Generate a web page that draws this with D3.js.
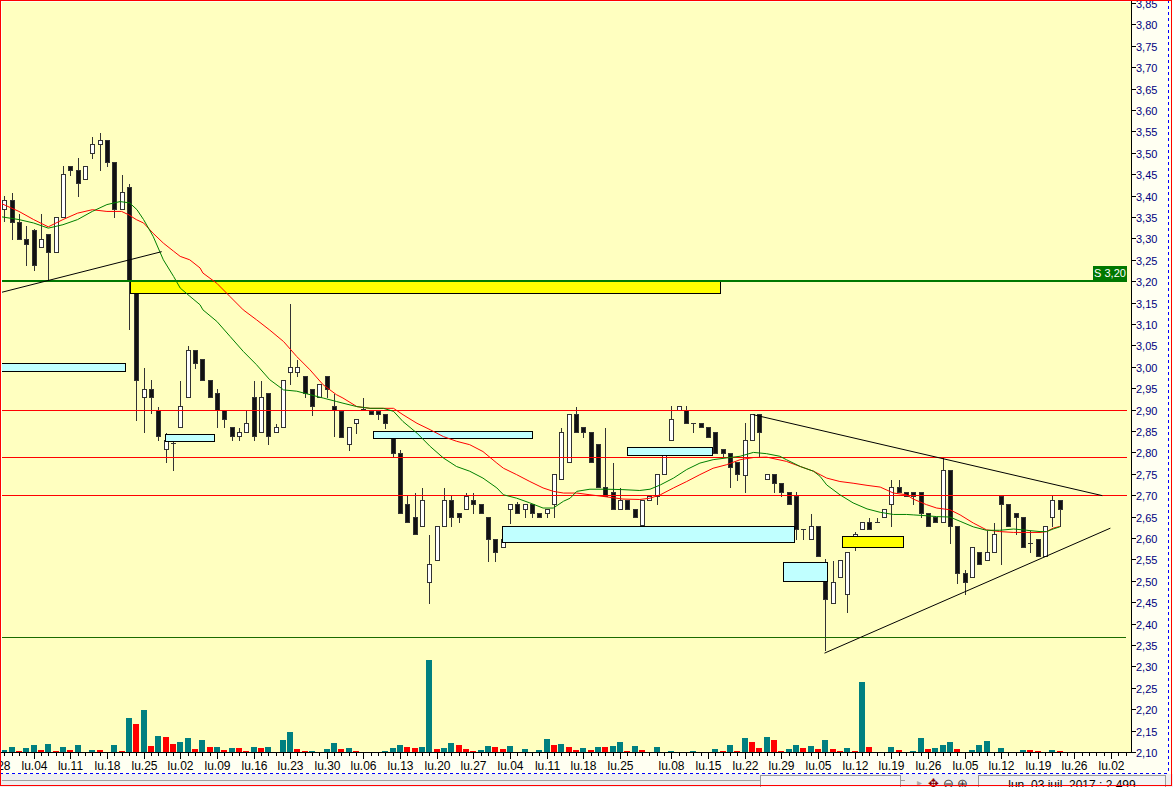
<!DOCTYPE html>
<html><head><meta charset="utf-8">
<script src="https://cdn.jsdelivr.net/npm/d3@7/dist/d3.min.js"></script>
<style>
body{margin:0;background:#fff}
svg{display:block}
text{font-family:"Liberation Sans",Arial,sans-serif}
</style>
</head><body>
<svg id="chart" width="1173" height="787"></svg>
<script>
// ---- DATA (index 0 = 29 Aug 2017, daily trading sessions) ----
const opens = [3.369,3.389,3.339,3.299,3.320,3.279,3.310,3.268,3.350,3.470,
3.459,3.438,3.499,3.521,3.530,3.478,3.369,3.420,3.173,2.930,
2.949,2.899,2.808,2.821,2.860,2.930,3.040,3.018,2.970,2.939,
2.898,2.859,2.838,2.848,2.929,2.848,2.939,2.848,2.859,2.987,
2.987,2.978,2.949,2.929,2.978,2.909,2.897,2.819,2.868,2.901,
2.897,2.897,2.889,2.837,2.798,2.679,2.649,2.627,2.497,2.548,
2.627,2.689,2.658,2.668,2.689,2.679,2.649,2.598,2.579,2.668,
2.679,2.668,2.679,2.658,2.658,2.679,2.738,2.777,2.890,2.859,
2.847,2.820,2.719,2.707,2.668,2.689,2.668,2.630,2.688,2.697,
2.750,2.828,2.899,2.899,2.868,2.868,2.859,2.847,2.808,2.798,
2.777,2.748,2.828,2.890,2.738,2.750,2.728,2.707,2.697,2.620,
2.598,2.629,2.540,2.448,2.509,2.469,2.590,2.620,2.637,2.637,
2.649,2.679,2.719,2.707,2.707,2.707,2.658,2.649,2.637,2.758,
2.627,2.518,2.509,2.567,2.549,2.567,2.697,2.679,2.658,2.649,
2.588,2.598,2.557,2.649,2.689];
const highs = [3.398,3.406,3.357,3.328,3.322,3.358,3.310,3.350,3.468,3.470,
3.489,3.470,3.537,3.546,3.530,3.478,3.449,3.428,3.175,2.997,
2.968,2.906,2.846,2.836,2.967,3.048,3.040,3.018,2.970,2.947,
2.898,2.859,2.857,2.898,2.967,2.967,2.939,2.867,2.970,3.147,
3.016,2.978,2.949,2.960,2.978,2.937,2.900,2.859,2.877,2.927,
2.897,2.897,2.889,2.837,2.806,2.697,2.705,2.717,2.608,2.629,
2.717,2.697,2.658,2.705,2.705,2.679,2.649,2.598,2.598,2.679,
2.684,2.679,2.679,2.658,2.668,2.750,2.857,2.890,2.907,2.859,
2.847,2.820,2.857,2.775,2.717,2.689,2.668,2.689,2.697,2.750,
2.808,2.909,2.909,2.909,2.868,2.868,2.859,2.847,2.808,2.798,
2.777,2.868,2.890,2.890,2.750,2.750,2.728,2.707,2.707,2.620,
2.657,2.629,2.550,2.547,2.548,2.567,2.615,2.637,2.647,2.647,
2.668,2.736,2.736,2.707,2.707,2.707,2.658,2.649,2.787,2.758,
2.627,2.526,2.579,2.567,2.616,2.635,2.697,2.679,2.658,2.649,
2.616,2.598,2.629,2.697,2.689];
const lows = [3.340,3.298,3.298,3.238,3.227,3.279,3.200,3.268,3.350,3.449,
3.398,3.438,3.489,3.459,3.468,3.350,3.369,3.088,2.876,2.847,
2.891,2.829,2.778,2.759,2.860,2.930,2.998,2.970,2.929,2.859,
2.859,2.828,2.828,2.848,2.828,2.848,2.820,2.848,2.859,2.960,
2.978,2.929,2.888,2.929,2.929,2.838,2.837,2.806,2.846,2.900,
2.889,2.878,2.858,2.790,2.658,2.637,2.609,2.627,2.448,2.548,
2.627,2.627,2.637,2.668,2.658,2.658,2.547,2.547,2.579,2.635,
2.658,2.649,2.649,2.649,2.649,2.649,2.738,2.777,2.847,2.837,
2.777,2.719,2.699,2.668,2.668,2.668,2.649,2.620,2.688,2.679,
2.750,2.828,2.899,2.868,2.847,2.859,2.837,2.798,2.790,2.719,
2.736,2.707,2.828,2.790,2.738,2.707,2.699,2.679,2.598,2.598,
2.598,2.557,2.339,2.448,2.509,2.427,2.572,2.620,2.620,2.637,
2.649,2.627,2.707,2.697,2.679,2.649,2.629,2.637,2.637,2.588,
2.496,2.470,2.509,2.539,2.549,2.567,2.539,2.627,2.609,2.579,
2.567,2.557,2.557,2.627,2.627];
const closes = [3.389,3.338,3.298,3.288,3.239,3.299,3.268,3.350,3.451,3.459,
3.429,3.470,3.521,3.530,3.478,3.369,3.409,3.200,2.970,2.949,
2.930,2.839,2.829,2.821,2.909,3.040,3.009,2.970,2.929,2.900,
2.878,2.838,2.848,2.869,2.838,2.929,2.838,2.859,2.970,2.999,
2.999,2.939,2.908,2.960,2.949,2.900,2.837,2.859,2.877,2.901,
2.889,2.889,2.868,2.798,2.658,2.637,2.609,2.689,2.540,2.629,
2.689,2.649,2.649,2.697,2.679,2.658,2.598,2.567,2.598,2.679,
2.658,2.679,2.658,2.649,2.668,2.750,2.847,2.890,2.847,2.847,
2.777,2.719,2.699,2.668,2.689,2.668,2.649,2.689,2.697,2.750,
2.808,2.879,2.909,2.868,2.868,2.859,2.837,2.798,2.798,2.767,
2.750,2.828,2.890,2.847,2.750,2.728,2.707,2.679,2.620,2.620,
2.629,2.557,2.458,2.497,2.548,2.567,2.610,2.637,2.620,2.637,
2.668,2.719,2.707,2.697,2.697,2.658,2.629,2.637,2.758,2.629,
2.518,2.497,2.579,2.539,2.567,2.609,2.679,2.627,2.649,2.579,
2.588,2.557,2.629,2.689,2.668];
const volumes = [30,60,20,50,80,30,90,20,60,30,80,10,30,30,10,80,20,350,290,430,
70,170,160,90,110,150,40,130,60,60,30,50,50,20,60,50,60,10,130,210,
40,20,20,10,40,100,40,50,20,10,10,10,20,50,80,
60,50,60,930,40,50,100,80,40,20,30,70,60,40,70,10,40,10,30,140,
80,90,60,30,50,30,60,60,70,110,20,70,30,10,60,10,20,10,10,20,
10,10,40,20,80,20,150,110,50,160,130,20,40,
80,50,70,40,130,40,20,50,20,710,60,10,10,60,30,10,20,150,40,50,
80,110,40,10,30,80,120,5,50,10,10,30,30,20,10,30,20];
const volumeTeal = [1,1,0,1,1,0,1,0,1,0,1,0,1,0,0,1,0,1,0,1,
0,1,0,0,1,1,0,1,0,1,0,1,0,0,1,0,1,0,1,1,
0,0,1,0,1,1,0,1,0,0,0,1,1,1,1,
0,0,1,1,0,1,1,0,0,0,1,1,0,0,1,0,1,0,1,1,
0,1,0,0,1,0,1,0,1,1,0,1,0,0,1,0,1,0,1,1,
0,1,1,0,1,0,1,0,0,1,0,0,1,
1,0,1,0,1,0,0,1,0,1,0,0,0,1,0,0,1,1,0,1,
1,1,0,0,1,1,1,1,1,0,1,1,0,0,0,1,0];

// moving averages: [session index, value]
const maRed = [[-0.6,3.383],[2,3.363],[4,3.344],[6,3.327],[8,3.344],[10,3.359],[12,3.367],[14,3.363],[16,3.363],[17,3.355],[18,3.344],[19,3.336],[20.3,3.312],[21.7,3.289],[23.1,3.270],[24,3.258],[25.3,3.250],[26.7,3.231],[27.1,3.219],[29,3.195],[30.8,3.164],[32.6,3.133],[34.4,3.110],[36.2,3.086],[38.1,3.059],[39.9,3.024],[41.7,2.993],[43.5,2.958],[45.3,2.935],[46.2,2.927],[48.1,2.907],[49.9,2.903],[51.7,2.903],[53.1,2.903],[54.4,2.888],[56.3,2.868],[58.1,2.853],[59.9,2.837],[61.7,2.826],[63.5,2.818],[65.3,2.802],[67.2,2.775],[68.1,2.763],[69.9,2.748],[71.7,2.732],[73.5,2.717],[74.9,2.709],[76.3,2.705],[78.1,2.705],[79.9,2.701],[82.2,2.696],[84.4,2.691],[86.7,2.690],[88.1,2.693],[89.5,2.701],[91.3,2.717],[93.1,2.732],[94.9,2.748],[96.7,2.763],[98.5,2.771],[100.4,2.783],[102.2,2.788],[104,2.789],[106.7,2.779],[108.6,2.767],[110.4,2.756],[111.3,2.748],[112.2,2.740],[114,2.732],[115.8,2.728],[117.7,2.723],[119.5,2.719],[121.3,2.705],[123.1,2.701],[124,2.691],[125.8,2.678],[127.2,2.670],[129,2.666],[130.4,2.654],[132.2,2.635],[134,2.619],[135.8,2.615],[137.7,2.613],[139.5,2.613],[141.3,2.613],[142.2,2.615],[143.1,2.623],[144,2.627]];
const maGreen = [[-0.6,3.351],[2,3.344],[4,3.336],[6,3.324],[8,3.332],[10,3.344],[12,3.363],[14,3.379],[15.8,3.386],[17.1,3.383],[18.1,3.367],[19,3.344],[20.3,3.305],[21.7,3.250],[23.1,3.211],[24,3.184],[25.3,3.165],[26.7,3.145],[27.1,3.133],[29,3.106],[30.8,3.071],[32.6,3.036],[34.4,3.005],[36.2,2.970],[38.1,2.946],[39.9,2.943],[41.7,2.935],[43.5,2.927],[45.3,2.919],[46.2,2.915],[48.1,2.907],[49.9,2.903],[51.7,2.903],[53.1,2.896],[54.4,2.872],[56.3,2.845],[58.1,2.814],[59.9,2.787],[61.7,2.767],[63.5,2.756],[65.3,2.740],[67.2,2.717],[68.1,2.701],[69.9,2.693],[71.7,2.682],[73.5,2.670],[74.9,2.670],[76.3,2.686],[77.2,2.693],[78.1,2.709],[79.9,2.714],[82.2,2.714],[84.4,2.713],[86.7,2.711],[88.1,2.714],[89.5,2.724],[91.3,2.740],[93.1,2.760],[94.9,2.775],[96.7,2.783],[98.5,2.787],[100.4,2.791],[102.2,2.800],[104,2.797],[105.8,2.791],[106.7,2.783],[108.6,2.767],[110.4,2.756],[111.3,2.744],[112.2,2.724],[114,2.701],[115.8,2.682],[117.7,2.668],[119.5,2.660],[121.3,2.655],[123.1,2.655],[124,2.654],[125.8,2.652],[127.2,2.650],[129,2.649],[130.4,2.639],[132.2,2.626],[134,2.618],[135.8,2.618],[137.7,2.621],[139.5,2.618],[141.3,2.615],[142.2,2.615],[143.1,2.621],[144,2.626]];

// horizontal levels
const redLevels = [2.90, 2.79, 2.70];
const supportLevel = 3.20;
const supportLabel = "S 3,20";
const lowLevel = 2.368;

// zones: [startIndex, endIndex, lowPrice, highPrice]
const yellowZones = [[17.15,97.6,3.172,3.200],[114.3,122.6,2.578,2.604]];
const cyanZones = [[-0.6,16.4,2.990,3.009],[21.96,28.57,2.826,2.844],[50.34,71.95,2.833,2.849],[67.94,107.8,2.590,2.6275],[84.99,96.5,2.794,2.813],[106.3,112.3,2.499,2.543]];

// trend lines: [index1, price1, index2, price2]
const trendLines = [[-0.6,3.173,21.47,3.269],[102.2,2.888,149.8,2.699],[111.9,2.331,150.9,2.623]];

// axis ticks
const priceTicks = d3.range(2.10, 3.851, 0.05);
const tickIdx = [-1,4,9,14,19,24,29,34,39,44,49,54,59,64,69,74,79,84,91,96,101,106,111,116,121,126,131,136,141,146,151];
const tickLabels = ["lu.28","lu.04","lu.11","lu.18","lu.25","lu.02","lu.09","lu.16","lu.23","lu.30","lu.06","lu.13","lu.20","lu.27","lu.04","lu.11","lu.18","lu.25","lu.08","lu.15","lu.22","lu.29","lu.05","lu.12","lu.19","lu.26","lu.05","lu.12","lu.19","lu.26","lu.02"];
const statusText = "lun. 03 juil. 2017 : 2,499";

// ---- LAYOUT ----
const W = 1173, H = 787;
const plotL = 2, plotR = 1131, plotT = 2, plotB = 752;
const svg = d3.select("#chart");

const x = d3.scaleLinear().domain([0, 144]).range([4.3, 1059.8]);
const y = d3.scaleLinear().domain([2.10, 3.85]).range([752, 3]);
const yv = d3.scaleLinear().domain([0, 1000]).range([753, 653]);

const fmt = v => d3.format(".2f")(v).replace(".", ",");

// backgrounds
svg.append("rect").attr("x",0).attr("y",0).attr("width",W).attr("height",H).attr("fill","#fffff2");
svg.append("rect").attr("x",plotL).attr("y",plotT).attr("width",plotR-plotL).attr("height",plotB-plotT).attr("fill","#ffffc0");
svg.append("rect").attr("x",0).attr("y",774).attr("width",W).attr("height",13).attr("fill","#efefef");

const clip = svg.append("defs").append("clipPath").attr("id","plotclip");
clip.append("rect").attr("x",plotL).attr("y",plotT).attr("width",plotR-plotL).attr("height",plotB-plotT+1);
const g = svg.append("g").attr("clip-path","url(#plotclip)");

// volume bars
g.append("g").selectAll("rect").data(volumes).join("rect")
  .attr("x",(d,i)=>Math.round(x(i))-3)
  .attr("y",d=>Math.round(yv(d)))
  .attr("width",6)
  .attr("height",d=>Math.max(0, 753-Math.round(yv(d))))
  .attr("fill",(d,i)=>volumeTeal[i]?"#008080":"#ff0000");

// candles
const cg = g.append("g").attr("shape-rendering","crispEdges");
opens.forEach((o,i)=>{
  const c = closes[i], cx = Math.round(x(i));
  cg.append("line").attr("x1",cx+0.5).attr("x2",cx+0.5)
    .attr("y1",Math.round(y(highs[i]))).attr("y2",Math.round(y(lows[i]))+1)
    .attr("stroke","#333").attr("stroke-width",1);
  const top = Math.round(y(Math.max(o,c))), bot = Math.round(y(Math.min(o,c)));
  if (bot - top < 1) {
    cg.append("line").attr("x1",cx-2).attr("x2",cx+3).attr("y1",top+0.5).attr("y2",top+0.5)
      .attr("stroke","#333").attr("stroke-width",1);
  } else {
    cg.append("rect").attr("x",cx-2+0.5).attr("y",top+0.5).attr("width",4).attr("height",bot-top)
      .attr("fill", c>=o ? "#ffffff" : "#111111").attr("stroke","#333").attr("stroke-width",1);
  }
});

// zones
const zg = g.append("g").attr("shape-rendering","crispEdges");
function zone(z, fill){
  const x1 = Math.round(x(z[0])), x2 = Math.round(x(z[1]));
  const y1 = Math.round(y(z[3])), y2 = Math.round(y(z[2]));
  zg.append("rect").attr("x",x1+0.5).attr("y",y1+0.5).attr("width",x2-x1).attr("height",y2-y1)
    .attr("fill",fill).attr("stroke","#000").attr("stroke-width",1.5);
}
yellowZones.forEach(z=>zone(z,"#ffff00"));
cyanZones.forEach(z=>zone(z,"#c0ffff"));

// horizontal levels
const hg = g.append("g").attr("shape-rendering","crispEdges");
redLevels.forEach(p=>{
  hg.append("line").attr("x1",0).attr("x2",1127).attr("y1",Math.round(y(p))+0.5).attr("y2",Math.round(y(p))+0.5)
    .attr("stroke","#ff0000").attr("stroke-width",1);
});
hg.append("line").attr("x1",0).attr("x2",1127).attr("y1",Math.round(y(supportLevel))).attr("y2",Math.round(y(supportLevel)))
  .attr("stroke","#007800").attr("stroke-width",2);
hg.append("line").attr("x1",0).attr("x2",1126).attr("y1",Math.round(y(lowLevel))+0.5).attr("y2",Math.round(y(lowLevel))+0.5)
  .attr("stroke","#1a6a00").attr("stroke-width",1);

// moving averages
const line = d3.line().x(d=>x(d[0])).y(d=>y(d[1]));
g.append("path").datum(maRed).attr("d",line).attr("fill","none").attr("stroke","#ff0000").attr("stroke-width",1);
g.append("path").datum(maGreen).attr("d",line).attr("fill","none").attr("stroke","#008000").attr("stroke-width",1);

// trend lines
trendLines.forEach(t=>{
  g.append("line").attr("x1",x(t[0])).attr("y1",y(t[1])).attr("x2",x(t[2])).attr("y2",y(t[3]))
    .attr("stroke","#000").attr("stroke-width",1);
});

// support label
const sy = Math.round(y(supportLevel));
svg.append("rect").attr("x",1093).attr("y",sy-15).attr("width",34).attr("height",14).attr("fill","#007800");
svg.append("text").attr("x",1110).attr("y",sy-4).attr("text-anchor","middle").attr("font-size",11)
  .attr("fill","#fff").text(supportLabel);

// right axis
const ax = svg.append("g").attr("shape-rendering","crispEdges");
ax.append("line").attr("x1",plotR+0.5).attr("x2",plotR+0.5).attr("y1",0).attr("y2",753).attr("stroke","#000");
priceTicks.forEach(p=>{
  const yy = Math.round(y(p))+0.5;
  ax.append("line").attr("x1",plotR).attr("x2",plotR+5).attr("y1",yy).attr("y2",yy).attr("stroke","#000");
  svg.append("text").attr("x",1136).attr("y",yy+4).attr("font-size",11).attr("fill","#000080").text(fmt(p));
});

// bottom axis
ax.append("line").attr("x1",0).attr("x2",plotR+1).attr("y1",752.5).attr("y2",752.5).attr("stroke","#000");
d3.range(-1, 154).forEach(i=>{
  const xx = Math.round(x(i))+0.5;
  const major = tickIdx.includes(i);
  ax.append("line").attr("x1",xx).attr("x2",xx).attr("y1",753).attr("y2",major?759:756).attr("stroke","#000");
});
tickIdx.forEach((ti,k)=>{
  svg.append("text").attr("x",Math.round(x(ti))+0.5).attr("y",770).attr("text-anchor","middle")
    .attr("font-size",12).attr("fill","#000").text(tickLabels[k]);
});

// dashed separators
svg.append("line").attr("x1",0).attr("x2",1168).attr("y1",773.5).attr("y2",773.5)
  .attr("stroke","#0000ff").attr("stroke-dasharray","3,3").attr("shape-rendering","crispEdges");
svg.append("line").attr("x1",1168.5).attr("x2",1168.5).attr("y1",0).attr("y2",773)
  .attr("stroke","#0000ff").attr("stroke-dasharray","3,3").attr("shape-rendering","crispEdges");

// status bar
const sb = svg.append("g").attr("shape-rendering","crispEdges");
sb.append("line").attr("x1",2).attr("x2",905).attr("y1",780.5).attr("y2",780.5).attr("stroke","#a0a0a0");
sb.append("rect").attr("x",760.5).attr("y",775.5).attr("width",140).attr("height",12).attr("fill","#f6f6f6").attr("stroke","#9a9a9a");
sb.append("rect").attr("x",978.5).attr("y",775.5).attr("width",187).attr("height",12).attr("fill","#f3f3f3").attr("stroke","#9a9a9a");
svg.append("text").attr("x",917).attr("y",786).attr("font-size",10).attr("fill","#aaa").text("▸");
svg.append("text").attr("x",928).attr("y",788).attr("font-size",13).attr("fill","#800000").text("✥");
svg.append("text").attr("x",943).attr("y",788).attr("font-size",13).attr("fill","#333").text("⊖");
svg.append("text").attr("x",957).attr("y",788).attr("font-size",13).attr("fill","#333").text("⊕");
svg.append("text").attr("x",1072).attr("y",789).attr("text-anchor","middle").attr("font-size",12).attr("fill","#000").text(statusText);

// outer red frame
svg.append("rect").attr("x",0.5).attr("y",0.5).attr("width",1171).attr("height",785).attr("fill","none")
  .attr("stroke","#ff0000").attr("stroke-width",1).attr("shape-rendering","crispEdges");
</script>
</body></html>
